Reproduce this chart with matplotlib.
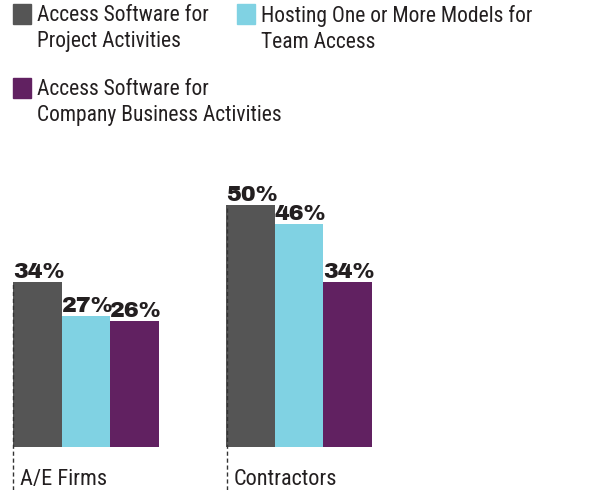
import matplotlib
matplotlib.use("Agg")
import matplotlib.pyplot as plt
from matplotlib.patches import Rectangle

# data
groups = ["A/E Firms", "Contractors"]
series = [
    "Access Software for\nProject Activities",
    "Hosting One or More Models for\nTeam Access",
    "Access Software for\nCompany Business Activities",
]
values = [
    [34, 50],  # project activities
    [27, 46],  # hosting models
    [26, 34],  # company business
]
colors = ["#555555", "#80d2e3", "#612161"]

W, H = 597, 490
fig = plt.figure(figsize=(W / 100, H / 100), dpi=100)

narrow = ["Roboto Condensed", "DejaVu Sans"]
heavy = ["Archivo Black", "DejaVu Sans"]

# axes placed in pixel terms: bars start at x=13, baseline at y=447
px_per_unit = 4.84
bar_px = 48.5
left_px, base_px = 13, 447
ax = fig.add_axes([left_px / W, (H - base_px) / H, (W - left_px) / W, base_px / H])
ax.set_xlim(0, (W - left_px) / bar_px)
ax.set_ylim(0, base_px / px_per_unit)
ax.axis("off")

group_start = [0, 4.4]
below = (H - base_px) / px_per_unit

for g, x0 in enumerate(group_start):
    for s in range(len(series)):
        v = values[s][g]
        x = x0 + s
        ax.bar(x, v, width=1, align="edge", color=colors[s])
        ax.annotate(f"{v}%", (x, v), xytext=(0, 4), textcoords="offset pixels",
                    ha="left", va="baseline", fontsize=16,
                    family=heavy, color="#231f20")
    # dashed guide along the left edge of the group
    ax.vlines(x0 + 0.01, -below, values[0][g], colors="#333333", linestyles=(0, (3, 2)),
              linewidth=1, clip_on=False)
    ax.annotate(groups[g], (x0, 0), xytext=(7, -38), textcoords="offset pixels",
                ha="left", va="baseline", fontsize=16, family=narrow, color="#231f20")

# legend drawn by hand
legend_pos = [(13, 4), (237, 4), (13, 78)]
for (lx, ly), lab, c in zip(legend_pos, series, colors):
    fig.patches.append(Rectangle((lx / W, 1 - (ly + 20) / H), 18 / W, 20 / H,
                                 transform=fig.transFigure, color=c))
    fig.text((lx + 24) / W, 1 - (ly + 1) / H, lab, ha="left", va="top",
             fontsize=15.5, family=narrow, color="#231f20", linespacing=1.3)

fig.savefig("out.png", dpi=100)
